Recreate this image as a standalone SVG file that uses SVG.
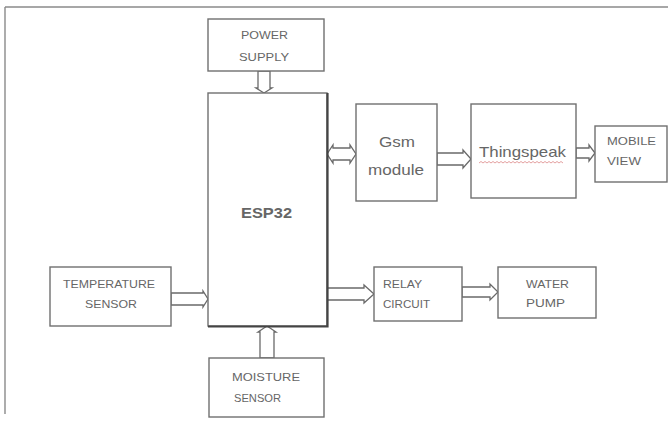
<svg xmlns="http://www.w3.org/2000/svg" width="668" height="421" viewBox="0 0 668 421">
<style>
.box{fill:#fff;stroke:#707070;stroke-width:1.4}
.arr{fill:#fff;stroke:#6a6a6a;stroke-width:1.3;stroke-linejoin:miter}
.cap{font-family:"Liberation Sans",Arial,sans-serif;font-size:11px;fill:#666}
.big{font-family:"Liberation Sans",Arial,sans-serif;font-size:15px;fill:#666}
.frame{stroke:#8a8a8a;stroke-width:1.4;fill:none}
</style>
<rect x="0" y="0" width="668" height="421" fill="#fff"/>
<path class="frame" d="M5,7 H668 M5,7 V414"/>
<g id="connectors">
<polygon class="arr" points="258,71 270,71 270,88 272,88 264,93 256,88 258,88"/>
<polygon class="arr" points="327,154 333,145 333,148 350,148 350,145 356,154 350,163 350,160 333,160 333,163"/>
<polygon class="arr" points="437,153 463,153 463,150 471,159 463,168 463,165 437,165"/>
<polygon class="arr" points="576,148 589,148 589,145 595,153 589,161 589,158 576,158"/>
<polygon class="arr" points="171,293 203,293 203,291 208,299 203,307 203,305 171,305"/>
<polygon class="arr" points="327,288 364,288 364,285 374,294 364,303 364,300 327,300"/>
<polygon class="arr" points="462,287 490,287 490,284 498,292 490,300 490,297 462,297"/>
<polygon class="arr" points="260,358 260,332 258,332 267,326 276,332 274,332 274,358"/>
</g>
<g id="power-supply">
<rect class="box" x="208" y="19" width="116" height="52"/>
<text class="cap" x="241" y="39" textLength="47" lengthAdjust="spacingAndGlyphs">POWER</text>
<text class="cap" x="239" y="61" textLength="50" lengthAdjust="spacingAndGlyphs">SUPPLY</text>
</g>
<g id="esp32">
<rect class="box" x="208" y="93" width="119" height="233" stroke-width="1.8" stroke="#555"/>
<path d="M208,326.5 H327.5 V93" fill="none" stroke="#444" stroke-width="2.2"/>
<text class="big" x="241" y="218" font-weight="bold" textLength="51" lengthAdjust="spacingAndGlyphs" fill="#555">ESP32</text>
</g>
<g id="gsm-module">
<rect class="box" x="356" y="104" width="81" height="97"/>
<text class="big" x="379" y="147" textLength="36" lengthAdjust="spacingAndGlyphs">Gsm</text>
<text class="big" x="368" y="175" textLength="56" lengthAdjust="spacingAndGlyphs">module</text>
</g>
<g id="thingspeak">
<rect class="box" x="471" y="104" width="105" height="94"/>
<text class="big" x="479" y="157" textLength="87" lengthAdjust="spacingAndGlyphs">Thingspeak</text>
<path d="M479,163 l2,-1.5 l2,1.5 l2,-1.5 l2,1.5 l2,-1.5 l2,1.5 l2,-1.5 l2,1.5 l2,-1.5 l2,1.5 l2,-1.5 l2,1.5 l2,-1.5 l2,1.5 l2,-1.5 l2,1.5 l2,-1.5 l2,1.5 l2,-1.5 l2,1.5 l2,-1.5 l2,1.5 l2,-1.5 l2,1.5 l2,-1.5 l2,1.5 l2,-1.5 l2,1.5 l2,-1.5 l2,1.5 l2,-1.5 l2,1.5 l2,-1.5 l2,1.5 l2,-1.5 l2,1.5 l2,-1.5 l2,1.5 l2,-1.5 l2,1.5 l2,-1.5 l2,1.5" fill="none" stroke="#d88" stroke-width="0.8"/>
</g>
<g id="mobile-view">
<rect class="box" x="595" y="126" width="72" height="56"/>
<text class="cap" x="607" y="145" textLength="49" lengthAdjust="spacingAndGlyphs">MOBILE</text>
<text class="cap" x="607" y="165" textLength="34" lengthAdjust="spacingAndGlyphs">VIEW</text>
</g>
<g id="temperature-sensor">
<rect class="box" x="50" y="267" width="121" height="59"/>
<text class="cap" x="63" y="288" textLength="92" lengthAdjust="spacingAndGlyphs">TEMPERATURE</text>
<text class="cap" x="85" y="308" textLength="52" lengthAdjust="spacingAndGlyphs">SENSOR</text>
</g>
<g id="relay-circuit">
<rect class="box" x="374" y="267" width="88" height="54"/>
<text class="cap" x="383" y="288" textLength="39" lengthAdjust="spacingAndGlyphs">RELAY</text>
<text class="cap" x="383" y="308" textLength="47" lengthAdjust="spacingAndGlyphs">CIRCUIT</text>
</g>
<g id="water-pump">
<rect class="box" x="498" y="267" width="98" height="51"/>
<text class="cap" x="526" y="288" textLength="43" lengthAdjust="spacingAndGlyphs">WATER</text>
<text class="cap" x="526" y="307" textLength="39" lengthAdjust="spacingAndGlyphs">PUMP</text>
</g>
<g id="moisture-sensor">
<rect class="box" x="209" y="358" width="115" height="59"/>
<text class="cap" x="232" y="381" textLength="68" lengthAdjust="spacingAndGlyphs">MOISTURE</text>
<text class="cap" x="234" y="402" textLength="47" lengthAdjust="spacingAndGlyphs">SENSOR</text>
</g>
</svg>
